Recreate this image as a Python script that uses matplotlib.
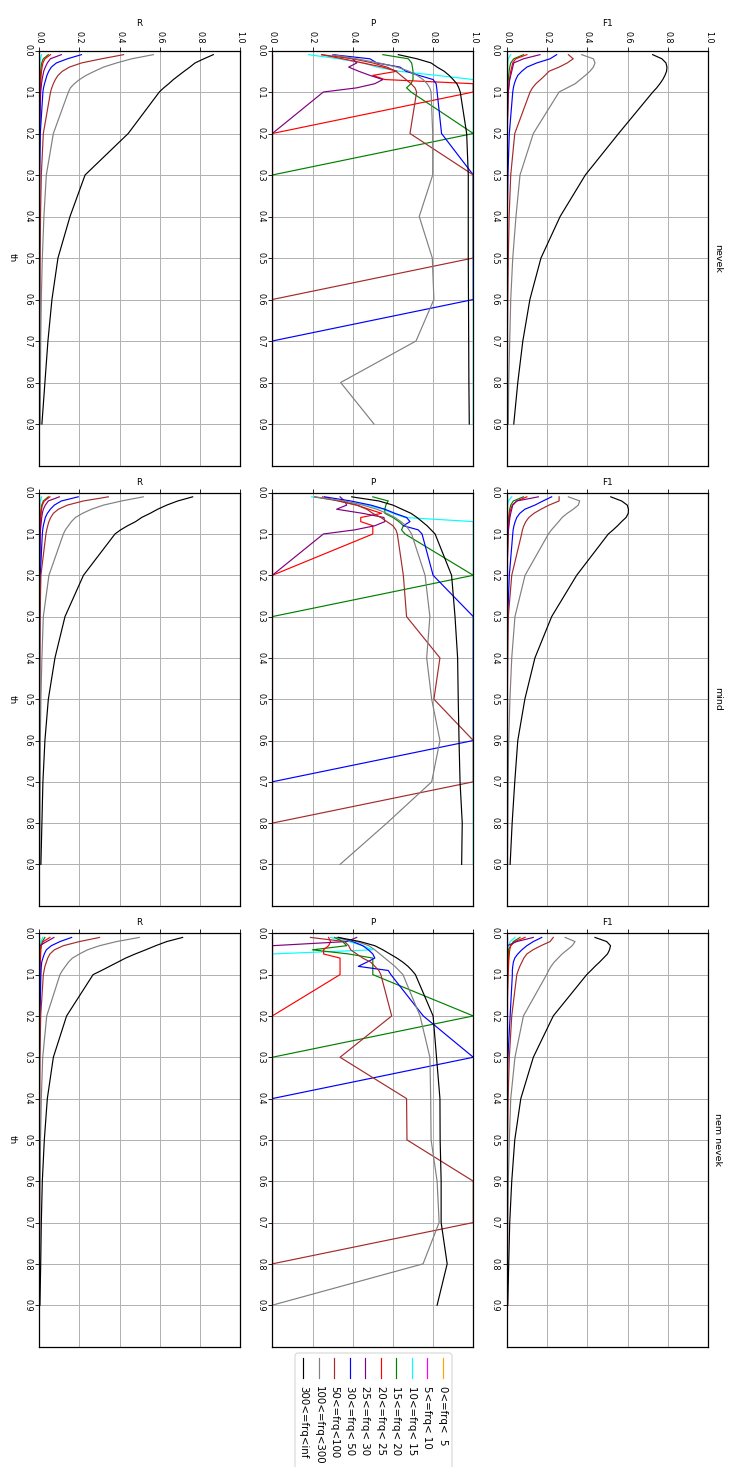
import matplotlib
matplotlib.use("Agg")
import matplotlib.pyplot as plt
from matplotlib.lines import Line2D
from matplotlib.patches import FancyBboxPatch
from matplotlib.ticker import FormatStrFormatter
from matplotlib.transforms import IdentityTransform

# thresholds on the th axis
TH = [0.01, 0.02, 0.03, 0.04, 0.05, 0.06, 0.07, 0.08, 0.09,
      0.1, 0.2, 0.3, 0.4, 0.5, 0.6, 0.7, 0.8, 0.9]

# frequency bands
BAND_LO = [0, 5, 10, 15, 20, 25, 30, 50, 100, 300]
BAND_HI = [5, 10, 15, 20, 25, 30, 50, 100, 300, "inf"]
COLORS = ["orange", "magenta", "cyan", "green", "red",
          "purple", "blue", "brown", "gray", "black"]

GROUPS = ["nevek", "mind", "nem nevek"]
METRICS = ["F1", "P", "R"]

# ---------------- nevek ----------------
F1_NEVEK = {
    0:   [0, 0, 0, 0, 0, 0, 0, 0, 0, 0, 0, 0, 0, 0, 0, 0, 0, 0],
    5:   [0, 0, 0, 0, 0, 0, 0, 0, 0, 0, 0, 0, 0, 0, 0, 0, 0, 0],
    10:  [0.02, 0.008, 0.005, 0.004, 0.003, 0.003, 0.002, 0.002, 0.002, 0.002, 0.002, 0.002, 0.002, 0.002, 0.002, 0.002, 0.002, 0.002],
    15:  [0.083, 0.035, 0.02, 0.015, 0.012, 0.01, 0.008, 0.006, 0.005, 0.004, 0, 0, 0, 0, 0, 0, 0, 0],
    20:  [0.1, 0.045, 0.03, 0.025, 0.02, 0.017, 0.014, 0.012, 0.01, 0.008, 0.001, 0, 0, 0, 0, 0, 0, 0],
    25:  [0.165, 0.083, 0.035, 0.03, 0.025, 0.02, 0.015, 0.012, 0.01, 0.008, 0.002, 0, 0, 0, 0, 0, 0, 0],
    30:  [0.248, 0.215, 0.149, 0.1, 0.075, 0.055, 0.045, 0.038, 0.033, 0.03, 0.013, 0.006, 0.003, 0.002, 0.001, 0.001, 0, 0],
    50:  [0.306, 0.33, 0.3, 0.26, 0.21, 0.19, 0.168, 0.145, 0.128, 0.116, 0.04, 0.02, 0.012, 0.008, 0.005, 0.003, 0.002, 0.001],
    100: [0.372, 0.43, 0.438, 0.43, 0.413, 0.39, 0.365, 0.34, 0.3, 0.26, 0.132, 0.066, 0.046, 0.03, 0.02, 0.015, 0.01, 0.008],
    300: [0.724, 0.77, 0.79, 0.795, 0.793, 0.785, 0.774, 0.76, 0.744, 0.725, 0.555, 0.39, 0.265, 0.17, 0.115, 0.08, 0.055, 0.035],
}
P_NEVEK = {
    0:   [0, 0, 0, 0, 0, 0, 0, 0, 0, 0, 0, 0, 0, 0, 0, 0, 0, 0],
    5:   [0, 0, 0, 0, 0, 0, 0, 0, 0, 0, 0, 0, 0, 0, 0, 0, 0, 0],
    10:  [0.18, 0.33, 0.45, 0.52, 0.63, 0.82, 1.0, 1.0, 1.0, 1.0, 1.0, 1.0, 1.0, 1.0, 1.0, 1.0, 1.0, 1.0],
    15:  [0.55, 0.677, 0.693, 0.697, 0.7, 0.7, 0.7, 0.69, 0.668, 0.69, 1.0, 0, 0, 0, 0, 0, 0, 0],
    20:  [0.245, 0.35, 0.45, 0.55, 0.62, 0.5, 0.56, 1.0, 1.0, 1.0, 0, 0, 0, 0, 0, 0, 0, 0],
    25:  [0.3, 0.4, 0.42, 0.38, 0.43, 0.486, 0.55, 0.51, 0.42, 0.254, 0, 0, 0, 0, 0, 0, 0, 0],
    30:  [0.3, 0.486, 0.52, 0.635, 0.665, 0.73, 0.8, 0.815, 0.818, 0.82, 0.842, 1.0, 1.0, 1.0, 1.0, 0, 0, 0],
    50:  [0.245, 0.4, 0.5, 0.57, 0.615, 0.64, 0.665, 0.69, 0.71, 0.718, 0.685, 1.0, 1.0, 1.0, 0, 0, 0, 0],
    100: [0.3, 0.42, 0.53, 0.62, 0.68, 0.72, 0.75, 0.77, 0.783, 0.79, 0.798, 0.798, 0.731, 0.796, 0.804, 0.715, 0.34, 0.506],
    300: [0.627, 0.72, 0.79, 0.82, 0.855, 0.88, 0.9, 0.918, 0.928, 0.935, 0.967, 0.975, 0.975, 0.975, 0.976, 0.977, 0.978, 0.98],
}
R_NEVEK = {
    0:   [0, 0, 0, 0, 0, 0, 0, 0, 0, 0, 0, 0, 0, 0, 0, 0, 0, 0],
    5:   [0, 0, 0, 0, 0, 0, 0, 0, 0, 0, 0, 0, 0, 0, 0, 0, 0, 0],
    10:  [0.012, 0.005, 0.003, 0.002, 0.002, 0.001, 0.001, 0.001, 0.001, 0.001, 0.001, 0.001, 0.001, 0.001, 0.001, 0.001, 0.001, 0.001],
    15:  [0.045, 0.02, 0.012, 0.009, 0.007, 0.006, 0.005, 0.004, 0.003, 0.002, 0.001, 0, 0, 0, 0, 0, 0, 0],
    20:  [0.056, 0.028, 0.018, 0.014, 0.011, 0.009, 0.008, 0.007, 0.006, 0.005, 0.001, 0, 0, 0, 0, 0, 0, 0],
    25:  [0.11, 0.055, 0.04, 0.03, 0.022, 0.018, 0.014, 0.011, 0.009, 0.007, 0.001, 0, 0, 0, 0, 0, 0, 0],
    30:  [0.21, 0.14, 0.085, 0.06, 0.047, 0.038, 0.032, 0.026, 0.021, 0.018, 0.005, 0.002, 0.001, 0.001, 0.001, 0, 0, 0],
    50:  [0.42, 0.31, 0.21, 0.15, 0.115, 0.093, 0.08, 0.07, 0.062, 0.056, 0.02, 0.01, 0.006, 0.004, 0.003, 0.002, 0.001, 0.001],
    100: [0.568, 0.46, 0.385, 0.32, 0.275, 0.233, 0.2, 0.175, 0.155, 0.145, 0.07, 0.035, 0.023, 0.015, 0.01, 0.007, 0.005, 0.004],
    300: [0.867, 0.82, 0.776, 0.75, 0.722, 0.695, 0.668, 0.645, 0.62, 0.598, 0.443, 0.228, 0.153, 0.093, 0.063, 0.043, 0.028, 0.013],
}

# ---------------- mind ----------------
F1_MIND = {
    0:   [0, 0, 0, 0, 0, 0, 0, 0, 0, 0, 0, 0, 0, 0, 0, 0, 0, 0],
    5:   [0, 0, 0, 0, 0, 0, 0, 0, 0, 0, 0, 0, 0, 0, 0, 0, 0, 0],
    10:  [0.025, 0.008, 0.004, 0.003, 0.003, 0.002, 0.002, 0.002, 0.002, 0.002, 0.002, 0.002, 0.002, 0.002, 0.002, 0.002, 0.002, 0.002],
    15:  [0.083, 0.033, 0.02, 0.015, 0.012, 0.01, 0.008, 0.006, 0.005, 0.004, 0, 0, 0, 0, 0, 0, 0, 0],
    20:  [0.1, 0.05, 0.028, 0.02, 0.015, 0.013, 0.011, 0.009, 0.008, 0.007, 0.001, 0, 0, 0, 0, 0, 0, 0],
    25:  [0.157, 0.05, 0.03, 0.025, 0.02, 0.016, 0.013, 0.011, 0.009, 0.007, 0.001, 0, 0, 0, 0, 0, 0, 0],
    30:  [0.223, 0.18, 0.14, 0.09, 0.065, 0.05, 0.042, 0.036, 0.032, 0.03, 0.013, 0.005, 0.002, 0.001, 0.001, 0, 0, 0],
    50:  [0.26, 0.26, 0.21, 0.17, 0.135, 0.11, 0.095, 0.085, 0.078, 0.074, 0.025, 0.008, 0.005, 0.003, 0.002, 0.001, 0, 0],
    100: [0.306, 0.362, 0.355, 0.33, 0.3, 0.275, 0.258, 0.24, 0.222, 0.207, 0.091, 0.041, 0.025, 0.016, 0.01, 0.007, 0.005, 0.003],
    300: [0.516, 0.57, 0.598, 0.604, 0.603, 0.592, 0.57, 0.55, 0.528, 0.504, 0.347, 0.223, 0.14, 0.09, 0.055, 0.04, 0.027, 0.017],
}
P_MIND = {
    0:   [0, 0, 0, 0, 0, 0, 0, 0, 0, 0, 0, 0, 0, 0, 0, 0, 0, 0],
    5:   [0, 0, 0, 0, 0, 0, 0, 0, 0, 0, 0, 0, 0, 0, 0, 0, 0, 0],
    10:  [0.196, 0.35, 0.47, 0.55, 0.6, 0.66, 1.0, 1.0, 1.0, 1.0, 1.0, 1.0, 1.0, 1.0, 1.0, 1.0, 1.0, 1.0],
    15:  [0.5, 0.577, 0.565, 0.56, 0.56, 0.6, 0.63, 0.652, 0.643, 0.66, 1.0, 0, 0, 0, 0, 0, 0, 0],
    20:  [0.25, 0.33, 0.42, 0.48, 0.544, 0.44, 0.44, 0.5, 0.5, 0.5, 0, 0, 0, 0, 0, 0, 0, 0],
    25:  [0.337, 0.36, 0.37, 0.32, 0.45, 0.555, 0.56, 0.51, 0.41, 0.254, 0, 0, 0, 0, 0, 0, 0, 0],
    30:  [0.26, 0.39, 0.49, 0.56, 0.61, 0.668, 0.685, 0.652, 0.726, 0.745, 0.8, 1.0, 1.0, 1.0, 1.0, 0, 0, 0],
    50:  [0.21, 0.33, 0.42, 0.47, 0.5, 0.54, 0.57, 0.6, 0.615, 0.622, 0.652, 0.668, 0.834, 0.804, 1.0, 1.0, 0, 0],
    100: [0.21, 0.36, 0.45, 0.52, 0.57, 0.61, 0.64, 0.665, 0.68, 0.693, 0.76, 0.784, 0.768, 0.793, 0.834, 0.793, 0.57, 0.337],
    300: [0.395, 0.53, 0.6, 0.645, 0.69, 0.72, 0.745, 0.77, 0.79, 0.81, 0.892, 0.909, 0.922, 0.925, 0.929, 0.934, 0.945, 0.942],
}
R_MIND = {
    0:   [0, 0, 0, 0, 0, 0, 0, 0, 0, 0, 0, 0, 0, 0, 0, 0, 0, 0],
    5:   [0, 0, 0, 0, 0, 0, 0, 0, 0, 0, 0, 0, 0, 0, 0, 0, 0, 0],
    10:  [0.012, 0.005, 0.003, 0.002, 0.001, 0.001, 0.001, 0.001, 0.001, 0.001, 0.001, 0.001, 0.001, 0.001, 0.001, 0.001, 0.001, 0.001],
    15:  [0.045, 0.02, 0.012, 0.009, 0.007, 0.005, 0.004, 0.003, 0.003, 0.002, 0.001, 0, 0, 0, 0, 0, 0, 0],
    20:  [0.053, 0.025, 0.015, 0.011, 0.009, 0.007, 0.006, 0.005, 0.004, 0.003, 0.001, 0, 0, 0, 0, 0, 0, 0],
    25:  [0.1, 0.045, 0.03, 0.02, 0.015, 0.012, 0.01, 0.008, 0.006, 0.005, 0.001, 0, 0, 0, 0, 0, 0, 0],
    30:  [0.194, 0.11, 0.075, 0.055, 0.04, 0.03, 0.025, 0.02, 0.017, 0.015, 0.005, 0.002, 0.001, 0.001, 0, 0, 0, 0],
    50:  [0.344, 0.22, 0.14, 0.095, 0.07, 0.057, 0.048, 0.042, 0.037, 0.033, 0.008, 0.004, 0.003, 0.002, 0.001, 0.001, 0, 0],
    100: [0.518, 0.41, 0.32, 0.26, 0.215, 0.18, 0.16, 0.145, 0.13, 0.12, 0.048, 0.02, 0.013, 0.008, 0.005, 0.004, 0.003, 0.002],
    300: [0.764, 0.69, 0.635, 0.59, 0.552, 0.51, 0.48, 0.44, 0.405, 0.377, 0.22, 0.128, 0.078, 0.045, 0.028, 0.018, 0.013, 0.008],
}

# ---------------- nem nevek ----------------
F1_NEM = {
    0:   [0, 0, 0, 0, 0, 0, 0, 0, 0, 0, 0, 0, 0, 0, 0, 0, 0, 0],
    5:   [0, 0, 0, 0, 0, 0, 0, 0, 0, 0, 0, 0, 0, 0, 0, 0, 0, 0],
    10:  [0.041, 0.017, 0.01, 0.005, 0, 0, 0, 0, 0, 0, 0, 0, 0, 0, 0, 0, 0, 0],
    15:  [0.066, 0.033, 0.02, 0.008, 0.01, 0.009, 0.008, 0.007, 0.006, 0.005, 0.001, 0, 0, 0, 0, 0, 0, 0],
    20:  [0.091, 0.041, 0.02, 0.015, 0.013, 0.011, 0.01, 0.009, 0.008, 0.007, 0.001, 0, 0, 0, 0, 0, 0, 0],
    25:  [0.132, 0.05, 0.003, 0, 0, 0, 0, 0, 0, 0, 0, 0, 0, 0, 0, 0, 0, 0],
    30:  [0.174, 0.132, 0.1, 0.075, 0.055, 0.04, 0.033, 0.03, 0.028, 0.028, 0.017, 0.006, 0, 0, 0, 0, 0, 0],
    50:  [0.231, 0.215, 0.17, 0.13, 0.1, 0.085, 0.075, 0.065, 0.057, 0.05, 0.025, 0.013, 0.007, 0.004, 0.002, 0.001, 0, 0],
    100: [0.29, 0.339, 0.325, 0.3, 0.275, 0.255, 0.235, 0.22, 0.208, 0.198, 0.083, 0.041, 0.02, 0.013, 0.008, 0.005, 0.003, 0],
    300: [0.438, 0.496, 0.515, 0.51, 0.5, 0.48, 0.46, 0.438, 0.418, 0.397, 0.231, 0.132, 0.07, 0.04, 0.025, 0.015, 0.01, 0.005],
}
P_NEM = {
    0:   [0, 0, 0, 0, 0, 0, 0, 0, 0, 0, 0, 0, 0, 0, 0, 0, 0, 0],
    5:   [0, 0, 0, 0, 0, 0, 0, 0, 0, 0, 0, 0, 0, 0, 0, 0, 0, 0],
    10:  [0.29, 0.38, 0.45, 0.5, 0, 0, 0, 0, 0, 0, 0, 0, 0, 0, 0, 0, 0, 0],
    15:  [0.31, 0.35, 0.37, 0.2, 0.38, 0.5, 0.5, 0.5, 0.5, 0.5, 1.0, 0, 0, 0, 0, 0, 0, 0],
    20:  [0.28, 0.29, 0.28, 0.255, 0.255, 0.337, 0.337, 0.337, 0.337, 0.337, 0, 0, 0, 0, 0, 0, 0, 0],
    25:  [0.42, 0.37, 0, 0, 0, 0, 0, 0, 0, 0, 0, 0, 0, 0, 0, 0, 0, 0],
    30:  [0.33, 0.4, 0.45, 0.478, 0.5, 0.51, 0.47, 0.428, 0.577, 0.59, 0.751, 1.0, 0, 0, 0, 0, 0, 0],
    50:  [0.19, 0.36, 0.38, 0.39, 0.42, 0.45, 0.49, 0.51, 0.53, 0.54, 0.594, 0.337, 0.668, 0.67, 1.0, 1.0, 0, 0],
    100: [0.32, 0.42, 0.48, 0.51, 0.535, 0.56, 0.585, 0.61, 0.63, 0.65, 0.735, 0.784, 0.788, 0.79, 0.82, 0.83, 0.75, 0],
    300: [0.328, 0.436, 0.51, 0.55, 0.585, 0.62, 0.65, 0.675, 0.695, 0.712, 0.8, 0.817, 0.834, 0.835, 0.84, 0.84, 0.87, 0.82],
}
R_NEM = {
    0:   [0, 0, 0, 0, 0, 0, 0, 0, 0, 0, 0, 0, 0, 0, 0, 0, 0, 0],
    5:   [0, 0, 0, 0, 0, 0, 0, 0, 0, 0, 0, 0, 0, 0, 0, 0, 0, 0],
    10:  [0.017, 0.008, 0.005, 0.003, 0, 0, 0, 0, 0, 0, 0, 0, 0, 0, 0, 0, 0, 0],
    15:  [0.028, 0.015, 0.01, 0.004, 0.005, 0.004, 0.004, 0.003, 0.003, 0.003, 0.001, 0, 0, 0, 0, 0, 0, 0],
    20:  [0.053, 0.02, 0.01, 0.008, 0.007, 0.006, 0.005, 0.004, 0.004, 0.004, 0.001, 0, 0, 0, 0, 0, 0, 0],
    25:  [0.073, 0.037, 0.002, 0, 0, 0, 0, 0, 0, 0, 0, 0, 0, 0, 0, 0, 0, 0],
    30:  [0.161, 0.103, 0.06, 0.035, 0.025, 0.018, 0.012, 0.01, 0.009, 0.008, 0.003, 0.001, 0, 0, 0, 0, 0, 0],
    50:  [0.3, 0.2, 0.12, 0.075, 0.053, 0.042, 0.035, 0.028, 0.024, 0.02, 0.007, 0.003, 0.002, 0.001, 0.001, 0.001, 0, 0],
    100: [0.498, 0.385, 0.3, 0.24, 0.2, 0.165, 0.145, 0.13, 0.115, 0.103, 0.037, 0.017, 0.01, 0.006, 0.004, 0.002, 0.001, 0],
    300: [0.714, 0.635, 0.58, 0.53, 0.478, 0.43, 0.39, 0.35, 0.31, 0.268, 0.136, 0.07, 0.04, 0.025, 0.015, 0.01, 0.007, 0.003],
}

PANELS = {
    ("nevek", "F1"): F1_NEVEK, ("nevek", "P"): P_NEVEK, ("nevek", "R"): R_NEVEK,
    ("mind", "F1"): F1_MIND, ("mind", "P"): P_MIND, ("mind", "R"): R_MIND,
    ("nem nevek", "F1"): F1_NEM, ("nem nevek", "P"): P_NEM, ("nem nevek", "R"): R_NEM,
}

# ---------------- layout (page turned on its side) ----------------
W, H = 730, 1467
fig = plt.figure(figsize=(W / 100, H / 100), dpi=100)

COL_X = {"R": (39.3, 240.0), "P": (272.3, 473.3), "F1": (506.7, 708.3)}
ROW_Y = [(50.5, 465.5), (492.7, 905.7), (933.3, 1346.5)]

TICK_FS = 5.8
LABEL_FS = 6.4
TITLE_FS = 6.8
LEGEND_FS = 7.4


def fx(x):
    return x / W


def fy(y):
    return 1 - y / H


def band_label(lo, hi):
    return f"{lo}<=frq<{hi!s:>3}"


for gi, group in enumerate(GROUPS):
    y0, y1 = ROW_Y[gi]
    for metric in METRICS:
        x0, x1 = COL_X[metric]
        ax = fig.add_axes([fx(x0), fy(y1), (x1 - x0) / W, (y1 - y0) / H])
        data = PANELS[(group, metric)]
        for lo, hi, color in zip(BAND_LO, BAND_HI, COLORS):
            ax.plot(data[lo], TH, color=color, lw=0.85,
                    label=band_label(lo, hi))
        ax.set_xlim(0, 1)
        ax.set_ylim(1, 0)
        ax.set_xticks([0, 0.2, 0.4, 0.6, 0.8, 1.0])
        ax.set_yticks([0, 0.1, 0.2, 0.3, 0.4, 0.5, 0.6, 0.7, 0.8, 0.9])
        ax.xaxis.set_major_formatter(FormatStrFormatter("%.1f"))
        ax.yaxis.set_major_formatter(FormatStrFormatter("%.1f"))
        ax.xaxis.tick_top()
        ax.xaxis.set_label_position("top")
        ax.set_xlabel(metric, fontsize=LABEL_FS, labelpad=3)
        ax.grid(True, color="#b0b0b0", lw=0.7)
        ax.set_axisbelow(True)
        for sp in ax.spines.values():
            sp.set_linewidth(0.9)
        ax.tick_params(axis="both", labelsize=TICK_FS, length=2.7,
                       width=0.6, pad=2.5)
        ax.tick_params(axis="x", labelrotation=-90, top=True, bottom=False,
                       labeltop=(gi == 0), labelbottom=False)
        ax.tick_params(axis="y", labelrotation=-90)
        for lab in ax.get_yticklabels():
            lab.set_verticalalignment("center")
        if metric == "F1":
            ax.text(1 + 9 / (x1 - x0), 0.5, group, transform=ax.transAxes,
                    rotation=-90, ha="center", va="center", fontsize=TITLE_FS)
        if metric == "R":
            ax.text(-27 / (x1 - x0), 0.5, "th", transform=ax.transAxes,
                    rotation=-90, ha="center", va="center", fontsize=LABEL_FS)

# ---------------- legend ----------------
box = FancyBboxPatch((295, H - 1495), 452 - 295, 1495 - 1353,
                     boxstyle="round,pad=0,rounding_size=3",
                     transform=IdentityTransform(), facecolor="white",
                     edgecolor="#cccccc", lw=0.8, alpha=0.8)
fig.add_artist(box)
for i, (lo, hi, color) in enumerate(zip(BAND_LO, BAND_HI, COLORS)):
    cx = 443 - i * 15.56
    fig.add_artist(Line2D([fx(cx), fx(cx)], [fy(1358), fy(1378)],
                          transform=fig.transFigure, color=color, lw=0.85))
    fig.text(fx(cx), fy(1386.5), band_label(lo, hi), rotation=-90,
             ha="center", va="top", fontsize=LEGEND_FS)

fig.savefig("out.png", dpi=100)
